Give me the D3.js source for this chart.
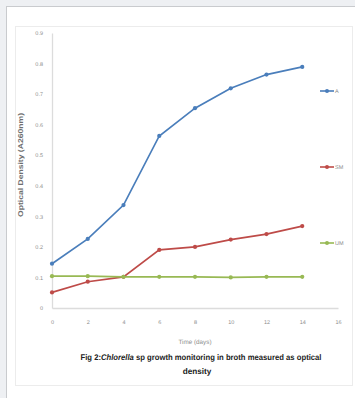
<!DOCTYPE html>
<html>
<head>
<meta charset="utf-8">
<script src="https://cdn.jsdelivr.net/npm/d3@7"></script>
<style>
  html, body { margin: 0; padding: 0; background: #eef0f3; }
  #chart { position: absolute; left: 0; top: 0; }
</style>
</head>
<body>
<div id="chart"></div>
<script>
// values
const days = [0, 2, 4, 6, 8, 10, 12, 14];
const seriesA = [0.145, 0.226, 0.337, 0.563, 0.654, 0.719, 0.764, 0.789];
const seriesSM = [0.051, 0.086, 0.102, 0.19, 0.2, 0.224, 0.242, 0.268];
const seriesUM = [0.104, 0.104, 0.102, 0.102, 0.102, 0.1, 0.102, 0.102];
const seriesNames = ["A", "SM", "UM"];
const seriesColors = ["#4a7ebb", "#be4b48", "#98b954"];
const yTicks = [0, 0.1, 0.2, 0.3, 0.4, 0.5, 0.6, 0.7, 0.8, 0.9];
const xTicks = [0, 2, 4, 6, 8, 10, 12, 14, 16];

const width = 355, height = 398;

const svg = d3.create("svg")
    .attr("width", width)
    .attr("height", height)
    .attr("text-rendering", "geometricPrecision")
    .style("font-family", "'Liberation Sans', sans-serif");

// page card
svg.append("rect")
    .attr("x", 6.5).attr("y", 6.5)
    .attr("width", 360).attr("height", 400)
    .attr("fill", "#fff")
    .attr("stroke", "#c9cbce");

// chart frame
svg.append("rect")
    .attr("x", 15.5).attr("y", 26.5)
    .attr("width", 337).attr("height", 359)
    .attr("fill", "#fff")
    .attr("stroke", "#ececec");

const x = d3.scaleLinear().domain([0, 16]).range([52, 338]);
const y = d3.scaleLinear().domain([0, 0.9]).range([308, 33]);

// axes
const yAxis = svg.append("g")
    .attr("transform", `translate(${x(0)},0)`)
    .call(d3.axisLeft(y).tickValues(yTicks).tickSize(0).tickPadding(9)
        .tickFormat(d => d === 0 ? "0" : d3.format(".1f")(d)));
const xAxis = svg.append("g")
    .attr("transform", `translate(0,${y(0)})`)
    .call(d3.axisBottom(x).tickValues(xTicks).tickSize(0).tickPadding(12));

[xAxis, yAxis].forEach(g => {
    g.select(".domain").attr("stroke", "#dcdcdc").attr("stroke-width", 1.3);
    g.selectAll("text")
        .attr("fill", "#8c8c8c")
        .style("font-family", "'Liberation Sans', sans-serif")
        .style("font-size", "5.5px");
});

// lines
const data = [seriesA, seriesSM, seriesUM];
const line = d3.line()
    .x((d, i) => x(days[i]))
    .y(d => y(d));

data.forEach((s, k) => {
    svg.append("path")
        .datum(s)
        .attr("fill", "none")
        .attr("stroke", seriesColors[k])
        .attr("stroke-width", 1.7)
        .attr("d", line);
    svg.append("g").selectAll("circle")
        .data(s)
        .join("circle")
        .attr("cx", (d, i) => x(days[i]))
        .attr("cy", d => y(d))
        .attr("r", 2.1)
        .attr("fill", seriesColors[k]);
});

// legend
const legendY = [91, 167, 243];
seriesNames.forEach((n, k) => {
    const g = svg.append("g").attr("transform", `translate(320,${legendY[k]})`);
    g.append("line")
        .attr("x1", 0).attr("x2", 14)
        .attr("stroke", seriesColors[k]).attr("stroke-width", 1.6);
    g.append("circle").attr("cx", 7).attr("r", 2).attr("fill", seriesColors[k]);
    g.append("text")
        .attr("x", 15).attr("dy", "0.35em")
        .attr("fill", "#8c8c8c")
        .style("font-size", "5.5px")
        .text(n);
});

// axis titles
svg.append("text")
    .attr("transform", `translate(22.5,165) rotate(-90)`)
    .attr("text-anchor", "middle")
    .attr("fill", "#6e6e6e")
    .attr("textLength", 104)
    .attr("lengthAdjust", "spacingAndGlyphs")
    .style("font-size", "7px")
    .style("font-weight", "bold")
    .text("Optical Density (A260nm)");

svg.append("text")
    .attr("x", 195).attr("y", 344)
    .attr("text-anchor", "middle")
    .attr("fill", "#8c8c8c")
    .style("font-size", "6.3px")
    .text("Time (days)");

// caption
const cap = svg.append("text")
    .attr("x", 201).attr("y", 359.5)
    .attr("text-anchor", "middle")
    .attr("fill", "#222")
    .attr("textLength", 241)
    .attr("lengthAdjust", "spacingAndGlyphs")
    .style("font-size", "8.2px")
    .style("font-weight", "bold");
cap.append("tspan").text("Fig 2:");
cap.append("tspan").style("font-style", "italic").text("Chlorella");
cap.append("tspan").text(" sp growth monitoring in broth measured as optical");

svg.append("text")
    .attr("x", 197).attr("y", 373.5)
    .attr("text-anchor", "middle")
    .attr("fill", "#222")
    .style("font-size", "8.2px")
    .style("font-weight", "bold")
    .text("density");

document.getElementById("chart").append(svg.node());
</script>
</body>
</html>
